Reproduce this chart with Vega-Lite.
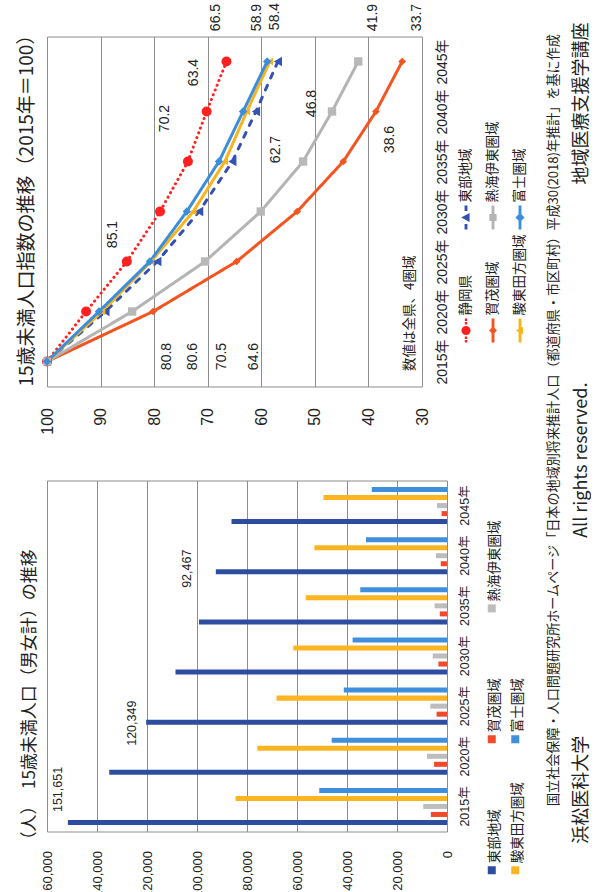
{
"$schema": "https://vega.github.io/schema/vega-lite/v6.json",
"background": "white",
"padding": {"left": 17, "top": 1.5, "right": 0, "bottom": 0},
"bounds": "flush",
"spacing": 94,
"resolve": {"scale": {"color": "independent", "shape": "independent"}, "legend": {"color": "independent", "shape": "independent"}},
"title": {
  "text": "浜松医科大学　　　　　　　　　　　All rights reserved.　　　　　　　　　　　地域医療支援学講座",
  "subtitle": "\u200B　　国立社会保障・人口問題研究所ホームページ「日本の地域別将来推計人口（都道府県・市区町村）平成30(2018)年推計」を基に作成",
  "orient": "right", "angle": 270, "baseline": "bottom", "anchor": "middle", "dx": 17,
  "font": "Noto Sans CJK JP", "fontSize": 18, "fontWeight": "normal", "color": "#222222",
  "subtitleFont": "Noto Sans CJK JP", "subtitleFontSize": 13.1, "subtitleColor": "#222222",
  "subtitlePadding": 12, "offset": 20
},
"datasets": {
  "index": [
    {"series": "静岡県", "year": 2015, "value": 100}, {"series": "静岡県", "year": 2020, "value": 92.7}, {"series": "静岡県", "year": 2025, "value": 85.1}, {"series": "静岡県", "year": 2030, "value": 78.9}, {"series": "静岡県", "year": 2035, "value": 73.7}, {"series": "静岡県", "year": 2040, "value": 70.2}, {"series": "静岡県", "year": 2045, "value": 66.5},
    {"series": "東部地域", "year": 2015, "value": 100}, {"series": "東部地域", "year": 2020, "value": 89.1}, {"series": "東部地域", "year": 2025, "value": 79.4}, {"series": "東部地域", "year": 2030, "value": 71.6}, {"series": "東部地域", "year": 2035, "value": 65.4}, {"series": "東部地域", "year": 2040, "value": 61.0}, {"series": "東部地域", "year": 2045, "value": 56.9},
    {"series": "賀茂圏域", "year": 2015, "value": 100}, {"series": "賀茂圏域", "year": 2020, "value": 80.2}, {"series": "賀茂圏域", "year": 2025, "value": 64.6}, {"series": "賀茂圏域", "year": 2030, "value": 53.3}, {"series": "賀茂圏域", "year": 2035, "value": 44.7}, {"series": "賀茂圏域", "year": 2040, "value": 38.6}, {"series": "賀茂圏域", "year": 2045, "value": 33.7},
    {"series": "熱海伊東圏域", "year": 2015, "value": 100}, {"series": "熱海伊東圏域", "year": 2020, "value": 84.1}, {"series": "熱海伊東圏域", "year": 2025, "value": 70.5}, {"series": "熱海伊東圏域", "year": 2030, "value": 60.1}, {"series": "熱海伊東圏域", "year": 2035, "value": 52.2}, {"series": "熱海伊東圏域", "year": 2040, "value": 46.8}, {"series": "熱海伊東圏域", "year": 2045, "value": 41.9},
    {"series": "駿東田方圏域", "year": 2015, "value": 100}, {"series": "駿東田方圏域", "year": 2020, "value": 89.7}, {"series": "駿東田方圏域", "year": 2025, "value": 80.6}, {"series": "駿東田方圏域", "year": 2030, "value": 72.7}, {"series": "駿東田方圏域", "year": 2035, "value": 66.8}, {"series": "駿東田方圏域", "year": 2040, "value": 62.7}, {"series": "駿東田方圏域", "year": 2045, "value": 58.4},
    {"series": "富士圏域", "year": 2015, "value": 100}, {"series": "富士圏域", "year": 2020, "value": 90.3}, {"series": "富士圏域", "year": 2025, "value": 80.8}, {"series": "富士圏域", "year": 2030, "value": 73.9}, {"series": "富士圏域", "year": 2035, "value": 67.9}, {"series": "富士圏域", "year": 2040, "value": 63.4}, {"series": "富士圏域", "year": 2045, "value": 58.9}
  ],
  "pop": [
    {"series": "東部地域", "year": 2015, "value": 151651}, {"series": "東部地域", "year": 2020, "value": 135100}, {"series": "東部地域", "year": 2025, "value": 120349}, {"series": "東部地域", "year": 2030, "value": 108600}, {"series": "東部地域", "year": 2035, "value": 99200}, {"series": "東部地域", "year": 2040, "value": 92467}, {"series": "東部地域", "year": 2045, "value": 86200},
    {"series": "賀茂圏域", "year": 2015, "value": 6450}, {"series": "賀茂圏域", "year": 2020, "value": 5170}, {"series": "賀茂圏域", "year": 2025, "value": 4170}, {"series": "賀茂圏域", "year": 2030, "value": 3440}, {"series": "賀茂圏域", "year": 2035, "value": 2880}, {"series": "賀茂圏域", "year": 2040, "value": 2490}, {"series": "賀茂圏域", "year": 2045, "value": 2170},
    {"series": "熱海伊東圏域", "year": 2015, "value": 9500}, {"series": "熱海伊東圏域", "year": 2020, "value": 7990}, {"series": "熱海伊東圏域", "year": 2025, "value": 6700}, {"series": "熱海伊東圏域", "year": 2030, "value": 5710}, {"series": "熱海伊東圏域", "year": 2035, "value": 4960}, {"series": "熱海伊東圏域", "year": 2040, "value": 4450}, {"series": "熱海伊東圏域", "year": 2045, "value": 3980},
    {"series": "駿東田方圏域", "year": 2015, "value": 84600}, {"series": "駿東田方圏域", "year": 2020, "value": 75890}, {"series": "駿東田方圏域", "year": 2025, "value": 68190}, {"series": "駿東田方圏域", "year": 2030, "value": 61500}, {"series": "駿東田方圏域", "year": 2035, "value": 56510}, {"series": "駿東田方圏域", "year": 2040, "value": 53040}, {"series": "駿東田方圏域", "year": 2045, "value": 49410},
    {"series": "富士圏域", "year": 2015, "value": 51100}, {"series": "富士圏域", "year": 2020, "value": 46140}, {"series": "富士圏域", "year": 2025, "value": 41290}, {"series": "富士圏域", "year": 2030, "value": 37760}, {"series": "富士圏域", "year": 2035, "value": 34700}, {"series": "富士圏域", "year": 2040, "value": 32400}, {"series": "富士圏域", "year": 2045, "value": 30100}
  ]
},
"vconcat": [
  {
    "width": 375, "height": 350,
    "data": {"name": "index"},
    "title": {"text": "15歳未満人口指数の推移（2015年＝100）", "orient": "left", "anchor": "start", "frame": "group", "font": "Noto Sans CJK JP", "fontSize": 19, "fontWeight": "normal", "color": "#222222", "offset": 2},
    "encoding": {
      "x": {"field": "value", "type": "quantitative",
            "scale": {"domain": [30, 100], "reverse": true, "nice": false, "zero": false},
            "axis": {"values": [30, 40, 50, 60, 70, 80, 90, 100], "grid": true, "labelAngle": 270, "labelAlign": "right", "labelBaseline": "middle", "labelPadding": 21, "labelFontSize": 16,
                     "title": "数値は全県、4圏域", "titleX": 362, "titleY": -16, "titleAngle": 270, "titleAlign": "left", "titleBaseline": "middle", "titleFont": "Noto Sans CJK JP", "titleFontSize": 13.5, "titleFontWeight": "normal", "titleColor": "#222222"}},
      "y": {"field": "year", "type": "ordinal", "sort": "descending",
            "axis": {"orient": "right", "title": null, "labelExpr": "datum.label + '年'", "labelAngle": 270, "labelAlign": "center", "labelBaseline": "top", "labelPadding": 13, "labelFontSize": 14}}
    },
    "layer": [
      {"mark": {"type": "line", "strokeWidth": 3, "strokeCap": "round"},
       "encoding": {
         "stroke": {"field": "series", "type": "nominal", "legend": null,
                   "scale": {"domain": ["東部地域", "熱海伊東圏域", "富士圏域", "静岡県", "賀茂圏域", "駿東田方圏域"], "range": ["#3451b2", "#b4b4b4", "#3a8edb", "#ff2020", "#f4541f", "#f9b31c"]}},
         "strokeDash": {"field": "series", "type": "nominal", "legend": null,
                   "scale": {"domain": ["東部地域", "熱海伊東圏域", "富士圏域", "静岡県", "賀茂圏域", "駿東田方圏域"], "range": [[5, 8], [1, 0], [1, 0], [0.1, 5], [1, 0], [1, 0]]}}
       }},
      {"transform": [{"filter": "datum.series === '静岡県'"}], "mark": {"type": "point", "shape": "circle", "filled": true, "size": 100, "color": "#ff2020", "opacity": 1}},
      {"transform": [{"filter": "datum.series === '東部地域'"}], "mark": {"type": "point", "shape": "triangle-left", "filled": true, "size": 90, "color": "#3553b5", "opacity": 1}},
      {"transform": [{"filter": "datum.series === '賀茂圏域'"}], "mark": {"type": "point", "shape": "diamond", "filled": true, "size": 60, "color": "#f4541f", "opacity": 1}},
      {"transform": [{"filter": "datum.series === '熱海伊東圏域'"}], "mark": {"type": "point", "shape": "square", "filled": true, "size": 70, "color": "#b8b8b8", "opacity": 1}},
      {"transform": [{"filter": "datum.series === '駿東田方圏域'"}], "mark": {"type": "point", "shape": "triangle-left", "filled": true, "size": 55, "color": "#f9b31c", "opacity": 1}},
      {"transform": [{"filter": "datum.series === '富士圏域'"}], "mark": {"type": "point", "shape": "diamond", "filled": true, "size": 70, "color": "#3a8edb", "opacity": 1}},
      {"mark": {"type": "point", "filled": true, "opacity": 0, "size": 576},
       "encoding": {
         "color": {"field": "series", "type": "nominal",
                   "scale": {"domain": ["東部地域", "熱海伊東圏域", "富士圏域", "静岡県", "賀茂圏域", "駿東田方圏域"], "range": ["#3451b2", "#b4b4b4", "#3a8edb", "#ff2020", "#f4541f", "#f9b31c"]},
                   "legend": {"orient": "none", "legendX": 407, "legendY": 169, "direction": "horizontal", "columns": 3, "title": null, "symbolSize": 576, "symbolOpacity": 1, "symbolStrokeWidth": 0, "labelFontSize": 13.5, "labelFont": "Noto Sans CJK JP", "labelColor": "#222222", "labelOffset": 0, "labelAlign": "left", "labelBaseline": "middle", "labelExpr": "pad(datum.label, 6, '　')", "columnPadding": 8, "rowPadding": 5, "gridAlign": "all", "padding": 0,
                              "values": ["東部地域", "熱海伊東圏域", "富士圏域", "静岡県", "賀茂圏域", "駿東田方圏域"],
                              "encoding": {"labels": {"angle": {"value": 270}, "dx": {"value": 15}, "dy": {"value": -12}}}}},
         "shape": {"field": "series", "type": "nominal",
                   "scale": {"domain": ["東部地域", "熱海伊東圏域", "富士圏域", "静岡県", "賀茂圏域", "駿東田方圏域"],
                             "range": [
                               "M-0.12,-1h0.24v0.45h-0.24Z M-0.12,0.55h0.24v0.45h-0.24Z M-0.4,0L0.3,-0.38L0.3,0.38Z",
                               "M-0.12,-1h0.24v2h-0.24Z M-0.3,-0.3h0.6v0.6h-0.6Z",
                               "M-0.12,-1h0.24v2h-0.24Z M0,-0.38L0.38,0L0,0.38L-0.38,0Z",
                               "M-0.1,-1h0.2v0.2h-0.2Z M-0.1,-0.7h0.2v0.2h-0.2Z M-0.1,0.5h0.2v0.2h-0.2Z M-0.1,0.8h0.2v0.2h-0.2Z M-0.38,0a0.38,0.38 0 1,0 0.76,0a0.38,0.38 0 1,0 -0.76,0Z",
                               "M-0.12,-1h0.24v2h-0.24Z M0,-0.33L0.33,0L0,0.33L-0.33,0Z",
                               "M-0.12,-1h0.24v2h-0.24Z M-0.35,0L0.25,-0.32L0.25,0.32Z"
                             ]},
                   "legend": {"orient": "none", "legendX": 407, "legendY": 169, "direction": "horizontal", "columns": 3, "title": null, "symbolSize": 576, "symbolOpacity": 1, "symbolStrokeWidth": 0, "labelFontSize": 13.5, "labelFont": "Noto Sans CJK JP", "labelColor": "#222222", "labelOffset": 0, "labelAlign": "left", "labelBaseline": "middle", "labelExpr": "pad(datum.label, 6, '　')", "columnPadding": 8, "rowPadding": 5, "gridAlign": "all", "padding": 0,
                              "values": ["東部地域", "熱海伊東圏域", "富士圏域", "静岡県", "賀茂圏域", "駿東田方圏域"],
                              "encoding": {"labels": {"angle": {"value": 270}, "dx": {"value": 15}, "dy": {"value": -12}}}}}
       }},
      {"transform": [{"filter": "(datum.series === '静岡県' || datum.series === '富士圏域') && datum.year === 2045"}],
       "mark": {"type": "text", "angle": 270, "align": "center", "baseline": "middle", "dx": 44, "dy": -10, "fontSize": 14, "font": "Liberation Sans", "color": "#222222"},
       "encoding": {"text": {"field": "value", "type": "quantitative", "format": ".1f"}}},
      {"transform": [{"filter": "(datum.series === '熱海伊東圏域' || datum.series === '賀茂圏域') && datum.year === 2045"}],
       "mark": {"type": "text", "angle": 270, "align": "center", "baseline": "middle", "dx": 44, "dy": 15, "fontSize": 14, "font": "Liberation Sans", "color": "#222222"},
       "encoding": {"text": {"field": "value", "type": "quantitative", "format": ".1f"}}},
      {"transform": [{"filter": "datum.series === '駿東田方圏域' && datum.year === 2045"}],
       "mark": {"type": "text", "angle": 270, "align": "center", "baseline": "middle", "dx": 45, "dy": 5, "fontSize": 14, "font": "Liberation Sans", "color": "#222222"},
       "encoding": {"text": {"field": "value", "type": "quantitative", "format": ".1f"}}},
      {"transform": [{"filter": "(datum.series === '富士圏域' || datum.series === '熱海伊東圏域' || datum.series === '賀茂圏域') && datum.year === 2025"}],
       "mark": {"type": "text", "angle": 270, "align": "center", "baseline": "middle", "dx": -95, "dy": 17, "fontSize": 14, "font": "Liberation Sans", "color": "#222222"},
       "encoding": {"text": {"field": "value", "type": "quantitative", "format": ".1f"}}},
      {"transform": [{"filter": "datum.series === '駿東田方圏域' && datum.year === 2025"}],
       "mark": {"type": "text", "angle": 270, "align": "center", "baseline": "middle", "dx": -95, "dy": 42, "fontSize": 14, "font": "Liberation Sans", "color": "#222222"},
       "encoding": {"text": {"field": "value", "type": "quantitative", "format": ".1f"}}},
      {"transform": [{"filter": "datum.series === '静岡県' && datum.year === 2025"}],
       "mark": {"type": "text", "angle": 270, "align": "center", "baseline": "middle", "dx": 27, "dy": -14, "fontSize": 14, "font": "Liberation Sans", "color": "#222222"},
       "encoding": {"text": {"field": "value", "type": "quantitative", "format": ".1f"}}},
      {"transform": [{"filter": "datum.series === '静岡県' && datum.year === 2040"}],
       "mark": {"type": "text", "angle": 270, "align": "center", "baseline": "middle", "dx": -7, "dy": -42, "fontSize": 14, "font": "Liberation Sans", "color": "#222222"},
       "encoding": {"text": {"field": "value", "type": "quantitative", "format": ".1f"}}},
      {"transform": [{"filter": "datum.series === '富士圏域' && datum.year === 2040"}],
       "mark": {"type": "text", "angle": 270, "align": "center", "baseline": "middle", "dx": 39, "dy": -49, "fontSize": 14, "font": "Liberation Sans", "color": "#222222"},
       "encoding": {"text": {"field": "value", "type": "quantitative", "format": ".1f"}}},
      {"transform": [{"filter": "datum.series === '駿東田方圏域' && datum.year === 2040"}],
       "mark": {"type": "text", "angle": 270, "align": "center", "baseline": "middle", "dx": -38, "dy": 29, "fontSize": 14, "font": "Liberation Sans", "color": "#222222"},
       "encoding": {"text": {"field": "value", "type": "quantitative", "format": ".1f"}}},
      {"transform": [{"filter": "datum.series === '熱海伊東圏域' && datum.year === 2040"}],
       "mark": {"type": "text", "angle": 270, "align": "center", "baseline": "middle", "dx": 8, "dy": -20, "fontSize": 14, "font": "Liberation Sans", "color": "#222222"},
       "encoding": {"text": {"field": "value", "type": "quantitative", "format": ".1f"}}},
      {"transform": [{"filter": "datum.series === '賀茂圏域' && datum.year === 2040"}],
       "mark": {"type": "text", "angle": 270, "align": "center", "baseline": "middle", "dx": -28, "dy": 14, "fontSize": 14, "font": "Liberation Sans", "color": "#222222"},
       "encoding": {"text": {"field": "value", "type": "quantitative", "format": ".1f"}}}
    ]
  },
  {
    "width": 400, "height": 351,
    "data": {"name": "pop"},
    "title": {"text": "（人）　15歳未満人口（男女計）の推移", "orient": "left", "anchor": "start", "frame": "group", "font": "Noto Sans CJK JP", "fontSize": 17, "fontWeight": "normal", "color": "#222222", "offset": 2, "dx": -17},
    "encoding": {
      "x": {"field": "value", "type": "quantitative",
            "scale": {"domain": [0, 160000], "reverse": true, "nice": false},
            "axis": {"values": [0, 20000, 40000, 60000, 80000, 100000, 120000, 140000, 160000], "labelExpr": "format(datum.value, ',')", "grid": true, "title": null, "labelAngle": 270, "labelAlign": "right", "labelBaseline": "middle", "labelPadding": 19, "labelFontSize": 13}},
      "y": {"field": "year", "type": "ordinal", "sort": "descending",
            "scale": {"paddingInner": 0.26, "paddingOuter": 0.13},
            "axis": {"orient": "right", "title": null, "labelExpr": "datum.label + '年'", "labelAngle": 270, "labelAlign": "center", "labelBaseline": "top", "labelPadding": 11, "labelFontSize": 12.5}},
      "yOffset": {"field": "series", "type": "nominal",
            "scale": {"domain": ["富士圏域", "駿東田方圏域", "熱海伊東圏域", "賀茂圏域", "東部地域"], "paddingInner": 0.375, "paddingOuter": 0}}
    },
    "layer": [
      {"mark": {"type": "bar"},
       "encoding": {
         "color": {"field": "series", "type": "nominal",
                   "scale": {"domain": ["東部地域", "賀茂圏域", "熱海伊東圏域", "駿東田方圏域", "富士圏域", " "], "range": ["#2e4d9f", "#ef4a2b", "#bdbdbd", "#fbb520", "#3f8fdc", "rgba(0,0,0,0)"]},
                   "legend": {"orient": "none", "legendX": 438, "legendY": 121, "direction": "horizontal", "columns": 2, "title": null, "symbolType": "square", "symbolSize": 64, "symbolStrokeWidth": 0, "labelFontSize": 13.5, "labelFont": "Noto Sans CJK JP", "labelColor": "#222222", "labelOffset": 0, "labelAlign": "left", "labelBaseline": "middle", "labelExpr": "pad(datum.label, 6, '　')", "columnPadding": 7.5, "rowPadding": 38, "gridAlign": "all", "padding": 0,
                              "values": ["熱海伊東圏域", " ", "賀茂圏域", "富士圏域", "東部地域", "駿東田方圏域"],
                              "encoding": {"labels": {"angle": {"value": 270}, "dx": {"value": 7}, "dy": {"value": -4}}}}}
       }},
      {"transform": [{"filter": "datum.series === '東部地域' && datum.year === 2015"}],
       "mark": {"type": "text", "angle": 270, "align": "center", "baseline": "middle", "dx": 33, "dy": -10, "fontSize": 12.5, "font": "Liberation Sans", "color": "#222222"},
       "encoding": {"text": {"field": "value", "type": "quantitative", "format": ","}}},
      {"transform": [{"filter": "datum.series === '東部地域' && datum.year === 2025"}],
       "mark": {"type": "text", "angle": 270, "align": "center", "baseline": "middle", "dx": -1, "dy": -14, "fontSize": 12.5, "font": "Liberation Sans", "color": "#222222"},
       "encoding": {"text": {"field": "value", "type": "quantitative", "format": ","}}},
      {"transform": [{"filter": "datum.series === '東部地域' && datum.year === 2040"}],
       "mark": {"type": "text", "angle": 270, "align": "center", "baseline": "middle", "dx": 3, "dy": -29, "fontSize": 12.5, "font": "Liberation Sans", "color": "#222222"},
       "encoding": {"text": {"field": "value", "type": "quantitative", "format": ","}}}
    ]
  }
],
"config": {
  "font": "Noto Sans CJK JP",
  "view": {"stroke": "#8c8c8c", "strokeWidth": 1},
  "axis": {"gridColor": "#8c8c8c", "gridWidth": 1, "gridOpacity": 1, "domain": false, "ticks": false, "labelColor": "#222222", "labelFont": "Liberation Sans, Noto Sans CJK JP"}
}
}
